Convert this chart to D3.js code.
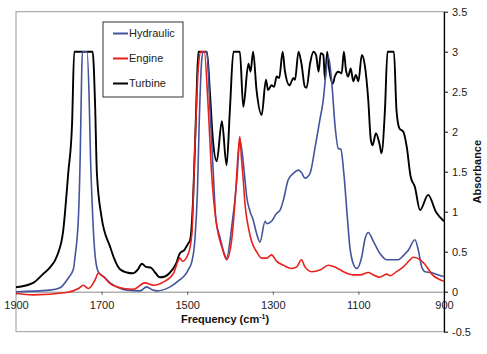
<!DOCTYPE html>
<html>
<head>
<meta charset="utf-8">
<script src="https://cdn.jsdelivr.net/npm/d3@7"></script>
<style>
  body { margin: 0; background: #fff; }
  text { font-family: "Liberation Sans", Arial, sans-serif; }
</style>
</head>
<body>
<div id="canvas"></div>
<script>
"use strict"

/* Data */
let seriesNames = ["Hydraulic", "Engine", "Turbine"];
let seriesColors = ["#44549c", "#e8201a", "#000000"];

let hydraulicFreq = [1900, 1821, 1797, 1778, 1766, 1762, 1754, 1750, 1747, 1745, 1734, 1729, 1726, 1722, 1718, 1711, 1704, 1696, 1680, 1660, 1641, 1610, 1595, 1580, 1571, 1540, 1517, 1505, 1497, 1489, 1482, 1476, 1472, 1466, 1462, 1454, 1447, 1439, 1433, 1423, 1416, 1408, 1396, 1384, 1377, 1365, 1361, 1353, 1346, 1338, 1330, 1318, 1314, 1303, 1291, 1283, 1275, 1264, 1252, 1240, 1233, 1225, 1213, 1201, 1190, 1182, 1176, 1170, 1162, 1155, 1147, 1141, 1134, 1126, 1120, 1112, 1104, 1092, 1085, 1077, 1065, 1050, 1034, 1018, 1007, 995, 983, 968, 960, 952, 944, 931, 913, 900];
let hydraulicAbs = [0.0, 0.02, 0.05, 0.17, 0.28, 0.44, 0.95, 1.69, 2.6, 3.0, 3.0, 2.4, 1.7, 1.1, 0.65, 0.3, 0.22, 0.19, 0.11, 0.05, 0.02, 0.01, 0.06, 0.02, 0.01, 0.06, 0.15, 0.21, 0.28, 0.38, 0.65, 1.27, 2.1, 2.9, 3.0, 3.0, 2.31, 1.48, 0.9, 0.67, 0.52, 0.42, 0.81, 1.4, 1.9, 1.4, 1.19, 1.0, 0.9, 0.73, 0.62, 0.88, 0.85, 0.88, 0.98, 1.02, 1.15, 1.4, 1.48, 1.52, 1.49, 1.42, 1.48, 1.81, 2.15, 2.4, 2.73, 2.94, 2.6, 2.1, 1.79, 1.78, 1.48, 0.94, 0.56, 0.35, 0.29, 0.44, 0.65, 0.74, 0.63, 0.48, 0.4, 0.4, 0.4, 0.45, 0.52, 0.65, 0.52, 0.31, 0.25, 0.24, 0.21, 0.19];

let engineFreq = [1900, 1860, 1782, 1754, 1743, 1731, 1715, 1708, 1696, 1680, 1649, 1626, 1599, 1579, 1556, 1532, 1517, 1511, 1497, 1489, 1484, 1479, 1474, 1468, 1460, 1451, 1443, 1433, 1427, 1419, 1408, 1396, 1388, 1381, 1377, 1373, 1369, 1365, 1357, 1349, 1338, 1326, 1314, 1303, 1291, 1275, 1256, 1244, 1233, 1225, 1209, 1190, 1170, 1155, 1135, 1112, 1096, 1077, 1065, 1050, 1034, 1026, 1011, 995, 979, 972, 956, 940, 927, 909, 900];
let engineAbs = [-0.02, -0.04, -0.01, 0.04, 0.08, 0.04, 0.15, 0.23, 0.19, 0.1, 0.04, 0.03, 0.11, 0.08, 0.12, 0.23, 0.42, 0.38, 0.48, 0.73, 1.48, 2.23, 2.81, 3.0, 3.0, 2.31, 1.48, 0.9, 0.71, 0.56, 0.4, 0.65, 1.15, 1.73, 1.94, 1.65, 1.4, 1.1, 0.8, 0.62, 0.5, 0.42, 0.42, 0.46, 0.38, 0.33, 0.29, 0.31, 0.4, 0.31, 0.25, 0.27, 0.33, 0.31, 0.25, 0.21, 0.21, 0.24, 0.21, 0.18, 0.22, 0.2, 0.25, 0.31, 0.4, 0.43, 0.4, 0.31, 0.21, 0.15, 0.13];

let turbineFreq = [1900, 1860, 1837, 1821, 1804, 1790, 1778, 1769, 1764, 1721, 1715, 1711, 1700, 1680, 1671, 1657, 1641, 1627, 1615, 1606, 1596, 1585, 1575, 1564, 1552, 1540, 1526, 1517, 1507, 1498, 1493, 1486, 1479, 1474, 1454, 1447, 1440, 1431, 1419, 1408, 1400, 1392, 1377, 1369, 1357, 1352, 1346, 1338, 1326, 1316, 1311, 1303, 1297, 1291, 1285, 1277, 1272, 1261, 1252, 1248, 1240, 1233, 1225, 1221, 1213, 1205, 1199, 1193, 1188, 1182, 1178, 1173, 1168, 1160, 1155, 1147, 1139, 1134, 1129, 1124, 1118, 1112, 1106, 1100, 1092, 1085, 1077, 1071, 1067, 1059, 1050, 1046, 1038, 1032, 1017, 1011, 1004, 995, 987, 978, 968, 956, 937, 919, 900];
let turbineAbs = [0.055, 0.11, 0.22, 0.3, 0.45, 0.75, 1.48, 2.1, 3.0, 3.0, 2.3, 1.48, 0.93, 0.56, 0.42, 0.28, 0.24, 0.23, 0.28, 0.35, 0.31, 0.3, 0.24, 0.18, 0.19, 0.24, 0.35, 0.48, 0.52, 0.6, 0.65, 1.18, 2.3, 3.0, 3.0, 2.5, 1.9, 1.63, 2.13, 1.58, 2.3, 3.0, 3.0, 2.31, 2.85, 2.75, 3.0, 2.52, 2.21, 2.65, 2.52, 2.58, 2.56, 2.69, 2.67, 3.0, 2.77, 2.58, 2.67, 2.65, 3.0, 2.85, 2.56, 2.55, 2.85, 3.0, 2.96, 2.75, 2.98, 2.96, 2.65, 3.0, 2.77, 2.6, 2.69, 2.75, 2.73, 3.0, 2.77, 2.69, 2.79, 2.63, 2.71, 2.63, 2.96, 2.83, 2.4, 1.9, 1.83, 1.98, 1.83, 1.73, 2.27, 3.0, 3.0, 2.27, 2.04, 2.0, 1.81, 1.44, 1.31, 1.02, 1.21, 1.0, 0.88];

let xTicks = [1900, 1700, 1500, 1300, 1100, 900];
let yTicks = [-0.5, 0, 0.5, 1, 1.5, 2, 2.5, 3, 3.5];

/* Drawing configuration */
let svgWidth = 487;
let svgHeight = 354;
let plot = { left: 16, right: 444, top: 11.7, bottom: 331.7 };

let svg = d3.select("#canvas")
    .append("svg")
    .attr("width", svgWidth)
    .attr("height", svgHeight);

/* Scales: frequency runs from high to low */
let xScale = d3.scaleLinear()
    .domain([1900, 900])
    .range([plot.left, plot.right]);

let yScale = d3.scaleLinear()
    .domain([-0.5, 3.5])
    .range([plot.bottom, plot.top]);

// plot area frame (gray)
svg.append("rect")
    .attr("x", plot.left)
    .attr("y", plot.top)
    .attr("width", plot.right - plot.left)
    .attr("height", plot.bottom - plot.top)
    .attr("fill", "none")
    .attr("stroke", "#9a9a9a")
    .attr("stroke-width", 1);

/* X axis sits at absorbance 0 */
let xAxis = d3.axisBottom(xScale)
    .tickValues(xTicks)
    .tickSizeInner(3)
    .tickSizeOuter(0)
    .tickPadding(7)
    .tickFormat(function(d) { return String(d); });

let xg = svg.append("g")
    .attr("transform", "translate(0," + yScale(0) + ")")
    .call(xAxis);
xg.select(".domain").attr("stroke", "#888");
xg.selectAll(".tick line").attr("stroke", "#555");
xg.selectAll("text")
    .attr("font-size", "11px")
    .attr("fill", "#222");

/* Y axis on the right side */
let yAxis = d3.axisRight(yScale)
    .tickValues(yTicks)
    .tickSizeInner(4)
    .tickSizeOuter(0)
    .tickPadding(4)
    .tickFormat(function(d) { return d < 0 ? "-" + Math.abs(d) : String(d); });

let yg = svg.append("g")
    .attr("transform", "translate(" + plot.right + ",0)")
    .call(yAxis);
yg.select(".domain").attr("stroke", "#000").attr("stroke-width", 1.2);
yg.selectAll(".tick line").attr("stroke", "#000");
yg.selectAll("text")
    .attr("font-size", "11px")
    .attr("fill", "#222");

/* Spectra */
let line = d3.line()
    .x(function(d) { return xScale(d[0]); })
    .y(function(d) { return yScale(d[1]); })
    .curve(d3.curveMonotoneX);

let series = [
    { name: "Turbine", freq: turbineFreq, abs: turbineAbs, color: seriesColors[2], width: 1.9 },
    { name: "Hydraulic", freq: hydraulicFreq, abs: hydraulicAbs, color: seriesColors[0], width: 1.6 },
    { name: "Engine", freq: engineFreq, abs: engineAbs, color: seriesColors[1], width: 1.6 }
];

for (let i = 0; i < series.length; i++) {
    let s = series[i];
    let pts = s.freq.map(function(f, j) { return [f, s.abs[j]]; });
    svg.append("path")
        .datum(pts)
        .attr("fill", "none")
        .attr("stroke", s.color)
        .attr("stroke-width", s.width)
        .attr("stroke-linejoin", "round")
        .attr("d", line);
}

/* Axis titles */
let xTitle = svg.append("text")
    .attr("x", 225)
    .attr("y", 323)
    .attr("text-anchor", "middle")
    .attr("font-size", "11px")
    .attr("font-weight", "bold")
    .attr("fill", "#111");
xTitle.append("tspan").text("Frequency (cm");
xTitle.append("tspan").attr("dy", -4).attr("font-size", "7px").text("-1");
xTitle.append("tspan").attr("dy", 4).text(")");

svg.append("text")
    .attr("transform", "translate(481," + (plot.top + plot.bottom) / 2 + ") rotate(-90)")
    .attr("text-anchor", "middle")
    .attr("font-size", "11px")
    .attr("font-weight", "bold")
    .attr("fill", "#111")
    .text("Absorbance");

/* Legend */
let legendX = 103;
let legendY = 22;
let legendSpacing = 25;

svg.append("rect")
    .attr("x", legendX)
    .attr("y", legendY)
    .attr("width", 80)
    .attr("height", 75)
    .attr("fill", "#fff")
    .attr("stroke", "#333")
    .attr("stroke-width", 1);

for (let i = 0; i < seriesNames.length; i++) {
    let itemY = legendY + 11.5 + legendSpacing * i;
    svg.append("line")
        .attr("x1", legendX + 10)
        .attr("x2", legendX + 25)
        .attr("y1", itemY)
        .attr("y2", itemY)
        .attr("stroke", seriesColors[i])
        .attr("stroke-width", 2);
    svg.append("text")
        .attr("x", legendX + 26)
        .attr("y", itemY)
        .attr("dy", "0.35em")
        .attr("font-size", "11px")
        .attr("fill", "#222")
        .text(seriesNames[i]);
}
</script>
</body>
</html>
